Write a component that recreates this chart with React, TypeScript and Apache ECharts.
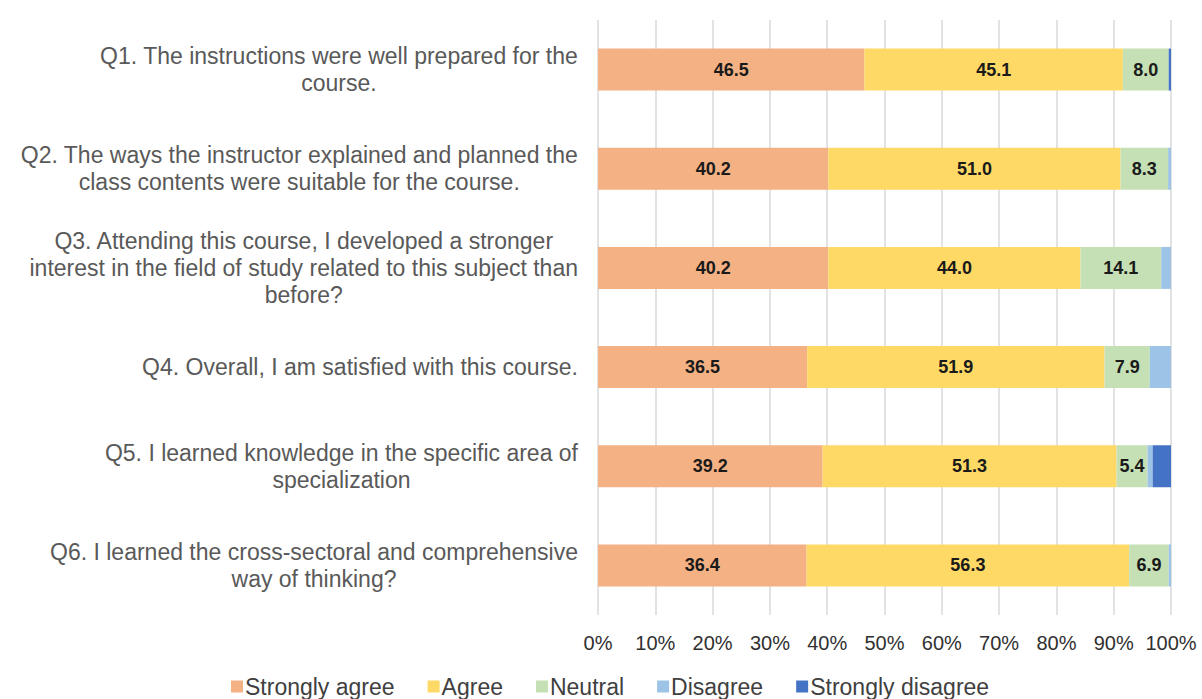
import React, { useEffect, useRef } from "react";
import * as echarts from "echarts";

const questions: string[][] = [
  ["Q1. The instructions were well prepared for the", "course."],
  ["Q2. The ways the instructor explained and planned the", "class contents were suitable for the course."],
  ["Q3. Attending this course, I developed a stronger", "interest in the field of study related to this subject than", "before?"],
  ["Q4. Overall, I am satisfied with this course."],
  ["Q5. I learned knowledge in the specific area of", "specialization"],
  ["Q6. I learned the cross-sectoral and comprehensive", "way of thinking?"],
];
const categories = ["Q1", "Q2", "Q3", "Q4", "Q5", "Q6"];
const seriesNames = ["Strongly agree", "Agree", "Neutral", "Disagree", "Strongly disagree"];
const stronglyAgree = [46.5, 40.2, 40.2, 36.5, 39.2, 36.4];
const agree = [45.1, 51.0, 44.0, 51.9, 51.3, 56.3];
const neutral = [8.0, 8.3, 14.1, 7.9, 5.4, 6.9];
const disagree = [0, 0.5, 1.7, 3.7, 0.9, 0.4];
const stronglyDisagree = [0.4, 0, 0, 0, 3.2, 0];
const colors = ["#F4B183", "#FFD966", "#C5E0B4", "#9DC3E6", "#4472C4"];
const labelShown = [true, true, true, false, false];

const FONT = "'Liberation Sans', Arial, sans-serif";

export default function App() {
  const ref = useRef<HTMLDivElement>(null);
  useEffect(() => {
    if (!ref.current) return;
    const chart = echarts.init(ref.current, null, { renderer: "svg" });
    const values = [stronglyAgree, agree, neutral, disagree, stronglyDisagree];
    chart.setOption({
      animation: false,
      grid: { left: 598, right: 31, top: 20, bottom: 84, containLabel: false },
      legend: {
        data: seriesNames,
        left: 231,
        top: 675,
        padding: 0,
        icon: "rect",
        itemWidth: 12,
        itemHeight: 12,
        itemGap: 33,
        textStyle: { fontFamily: FONT, fontSize: 23, color: "#404040", padding: [0, 0, 0, -3] },
      },
      xAxis: {
        type: "value",
        min: 0,
        max: 100,
        interval: 10,
        axisLine: { show: false },
        axisTick: { show: false },
        splitLine: { show: true, lineStyle: { color: "#D9D9D9", width: 1.5 } },
        axisLabel: {
          formatter: "{value}%",
          fontFamily: FONT,
          fontSize: 20,
          color: "#303030",
          margin: 18,
        },
      },
      yAxis: {
        type: "category",
        data: categories,
        inverse: true,
        axisLine: { show: false },
        axisTick: { show: false },
        axisLabel: { show: false },
      },
      series: seriesNames.map((name, i) => ({
        name,
        type: "bar",
        stack: "total",
        barWidth: 42,
        data: values[i],
        itemStyle: { color: colors[i] },
        label: {
          show: labelShown[i],
          position: "inside",
          formatter: (p: any) => Number(p.value).toFixed(1),
          fontFamily: FONT,
          fontWeight: "bold",
          fontSize: 18,
          color: "#1A1A1A",
        },
      })),
    });

    const canvas = document.createElement("canvas");
    const ctx = canvas.getContext("2d")!;
    ctx.font = "23px 'Liberation Sans'";
    const rightEdge = 578;
    const graphics = questions.map((lines, i) => {
      const w = Math.max(...lines.map((l) => ctx.measureText(l).width));
      const y = chart.convertToPixel({ yAxisIndex: 0 }, categories[i]) as number;
      return {
        type: "text",
        x: rightEdge - w / 2,
        y,
        style: {
          text: lines.join("\n"),
          fontFamily: FONT,
          fontSize: 23,
          lineHeight: 27,
          fill: "#595959",
          align: "center",
          verticalAlign: "middle",
        },
      };
    });
    chart.setOption({ graphic: graphics });
    return () => chart.dispose();
  }, []);
  return <div ref={ref} style={{ width: 1202, height: 699, position: "absolute", left: 0, top: 0 }} />;
}
